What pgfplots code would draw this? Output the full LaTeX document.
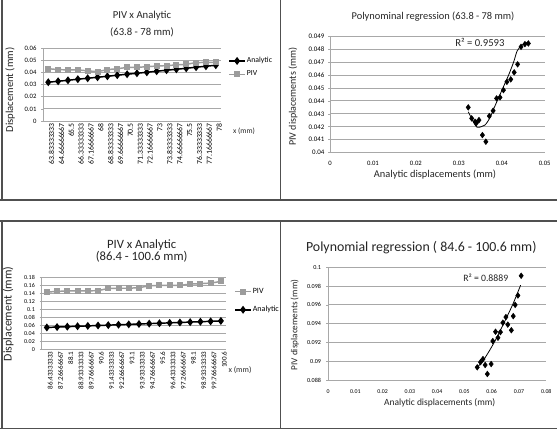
\documentclass[border=0pt]{standalone}
\usepackage{pgfplots}
\pgfplotsset{compat=1.18}
\usepackage{fontspec}
\setmainfont{Carlito}
\newcommand{\fs}[1]{\fontsize{#1}{#1}\selectfont}
\definecolor{gridgray}{HTML}{A8A8A8}
\definecolor{pivgray}{HTML}{9C9C9C}
\definecolor{framegray}{HTML}{505050}

\pgfplotsset{
  panel/.style={
    scale only axis,
    scaled x ticks=false, scaled y ticks=false,
    axis x line*=bottom, axis y line*=left,
    axis line style={-, gridgray, line width=0.6pt},
    ymajorgrids, grid style={gridgray, line width=0.6pt},
    tick style={gridgray, line width=0.5pt},
    major tick length=1.5pt, tick align=outside,
    clip=false,
  },
  linechart/.style={
    panel,
    xmin=-0.5, xmax=17.5, xtick={0,...,17},
    x tick style={draw=none},
    xticklabel style={rotate=90, anchor=east, inner sep=0pt, xshift=0pt, yshift=-2.5pt},
    yticklabel style={anchor=east, inner sep=0pt, xshift=-3.5pt},
    legend cell align=left,
    legend image code/.code={\draw[mark repeat=2,mark phase=2] plot coordinates {(0pt,0pt)(6pt,0pt)(12pt,0pt)};},
  },
  analytic/.style={black, line width=1.1pt, mark=diamond*, mark size=2.1pt, mark options={solid}},
  piv/.style={pivgray, line width=1.1pt, mark=square*, mark size=1.7pt, mark options={solid}},
  scatterpts/.style={only marks, black, mark=diamond*, mark size=2.1pt},
  trend/.style={black, line width=0.6pt, smooth, no marks},
}

\begin{document}
\begin{tikzpicture}
\useasboundingbox (0,0) rectangle (417.75pt,323.25pt);
\fill[white] (0,0) rectangle (417.75pt,323.25pt);

% ---------- upper left: line chart 63.8 - 78 mm ----------
\begin{axis}[linechart,
  at={(32.5pt,232.5pt)}, anchor=south west,
  width=133.05pt, height=54.5pt,
  ymin=0, ymax=0.06,
  ytick={0,0.01,0.02,0.03,0.04,0.05,0.06},
  yticklabels={0,0.01,0.02,0.03,0.04,0.05,0.06},
  yticklabel style={font=\fs{5}},
  xticklabel style={font=\fs{5.8}},
  xticklabels={63.83333333,64.66666667,65.5,66.33333333,67.16666667,68,68.83333333,69.66666667,70.5,71.33333333,72.16666667,73,73.83333333,74.66666667,75.5,76.33333333,77.16666667,78},
  legend style={draw=none, fill=none, at={(1.019,0.736)}, anchor=west,
    font=\fs{5.8}, row sep=3pt, nodes={inner sep=0.8pt}},
]
\addplot[analytic] coordinates {
 (0,0.0320) (1,0.0328) (2,0.0336) (3,0.0345) (4,0.0353) (5,0.0361)
 (6,0.0369) (7,0.0378) (8,0.0386) (9,0.0394) (10,0.0402) (11,0.0411)
 (12,0.0419) (13,0.0427) (14,0.0435) (15,0.0444) (16,0.0452) (17,0.0460)};
\addlegendentry{Analytic}
\addplot[piv] coordinates {
 (0,0.0432) (1,0.0424) (2,0.0422) (3,0.0422) (4,0.0414) (5,0.0407)
 (6,0.0424) (7,0.0432) (8,0.0442) (9,0.0443) (10,0.0448) (11,0.0454)
 (12,0.0457) (13,0.0463) (14,0.0468) (15,0.0482) (16,0.0484) (17,0.0485)};
\addlegendentry{PIV}
\end{axis}

% ---------- upper right: regression 63.8 - 78 mm ----------
\begin{axis}[panel,
  at={(247.5pt,208.7pt)}, anchor=south west,
  width=161pt, height=87.5pt,
  xmin=0, xmax=0.05, ymin=0.04, ymax=0.049,
  xtick={0,0.01,0.02,0.03,0.04,0.05},
  xticklabels={0,0.01,0.02,0.03,0.04,0.05},
  ytick={0.04,0.041,0.042,0.043,0.044,0.045,0.046,0.047,0.048,0.049},
  yticklabels={0.04,0.041,0.042,0.043,0.044,0.045,0.046,0.047,0.048,0.049},
  x tick style={draw=none},
  xticklabel style={font=\fs{5}, inner sep=0pt, yshift=-5pt},
  yticklabel style={font=\fs{5.2}, anchor=east, inner sep=0pt, xshift=-2.5pt},
]
\addplot[scatterpts] coordinates {
 (0.0322,0.04350) (0.0330,0.04265) (0.0338,0.04239) (0.0347,0.04252)
 (0.0341,0.04230) (0.0355,0.04136) (0.0363,0.04085) (0.0371,0.04283)
 (0.0380,0.04324) (0.0388,0.04419) (0.0396,0.04427) (0.0404,0.04483)
 (0.0412,0.04547) (0.0421,0.04566) (0.0429,0.04620) (0.0437,0.04682)
 (0.0445,0.04817) (0.0454,0.04838) (0.0462,0.04843)};
\addplot[trend] coordinates {
 (0.0322,0.04316) (0.0338,0.04214) (0.0345,0.04196) (0.0361,0.04214)
 (0.0373,0.04273) (0.0380,0.04329) (0.0392,0.04419) (0.0404,0.04509)
 (0.0416,0.04599) (0.0428,0.04702) (0.0436,0.04786) (0.0447,0.04830)
 (0.0458,0.04851)};
\end{axis}

% ---------- lower left: line chart 86.4 - 100.6 mm ----------
\begin{axis}[linechart,
  at={(31.3pt,61.3pt)}, anchor=south west,
  width=138.2pt, height=54pt,
  ymin=0, ymax=0.18,
  ytick={0,0.02,0.04,0.06,0.08,0.1,0.12,0.14,0.16,0.18},
  yticklabels={0,0.02,0.04,0.06,0.08,0.1,0.12,0.14,0.16,0.18},
  yticklabel style={font=\fs{4.5}},
  xticklabel style={font=\fs{5.3}},
  xticklabels={86.43333333,87.26666667,88.1,88.93333333,89.76666667,90.6,91.43333333,92.26666667,93.1,93.93333333,94.76666667,95.6,96.43333333,97.26666667,98.1,98.93333333,99.76666667,100.6},
  legend style={draw=none, fill=none, at={(1.022,0.673)}, anchor=west,
    font=\fs{6}, row sep=6.5pt, nodes={inner sep=0.8pt}},
]
\addplot[piv] coordinates {
 (0,0.1430) (1,0.1445) (2,0.1460) (3,0.1460) (4,0.1460) (5,0.1465)
 (6,0.1520) (7,0.1525) (8,0.1525) (9,0.1540) (10,0.1585) (11,0.1595)
 (12,0.1595) (13,0.1595) (14,0.1630) (15,0.1640) (16,0.1655) (17,0.1695)};
\addlegendentry{PIV}
\addplot[analytic] coordinates {
 (0,0.0545) (1,0.0555) (2,0.0565) (3,0.0575) (4,0.0584) (5,0.0594)
 (6,0.0603) (7,0.0613) (8,0.0622) (9,0.0632) (10,0.0641) (11,0.0651)
 (12,0.0660) (13,0.0670) (14,0.0679) (15,0.0689) (16,0.0698) (17,0.0708)};
\addlegendentry{Analytic}
\end{axis}

% ---------- lower right: regression 84.6 - 100.6 mm ----------
\begin{axis}[panel,
  at={(246pt,38.25pt)}, anchor=south west,
  width=163.7pt, height=84.5pt,
  xmin=0, xmax=0.08, ymin=0.088, ymax=0.1,
  xtick={0,0.01,0.02,0.03,0.04,0.05,0.06,0.07,0.08},
  xticklabels={0,0.01,0.02,0.03,0.04,0.05,0.06,0.07,0.08},
  ytick={0.088,0.09,0.092,0.094,0.096,0.098,0.1},
  yticklabels={0.088,0.09,0.092,0.094,0.096,0.098,0.1},
  x tick style={draw=none},
  xticklabel style={font=\fs{4.4}, inner sep=0pt, yshift=-5.5pt},
  yticklabel style={font=\fs{4.6}, anchor=east, inner sep=0pt, xshift=-3.5pt},
]
\addplot[scatterpts] coordinates {
 (0.0547,0.08935) (0.0559,0.08990) (0.0568,0.09023) (0.0576,0.08960)
 (0.0584,0.08864) (0.0598,0.08970) (0.0604,0.09215) (0.0614,0.09314)
 (0.0623,0.09250) (0.0632,0.09310) (0.0641,0.09410) (0.0652,0.09470)
 (0.0659,0.09390) (0.0672,0.09330) (0.0679,0.09480) (0.0686,0.09600)
 (0.0696,0.09700) (0.0708,0.09910)};
\addplot[trend] coordinates {
 (0.0543,0.0892) (0.0574,0.0903) (0.0611,0.0921) (0.0647,0.0942)
 (0.0678,0.0961) (0.0706,0.0981)};
\end{axis}

% ---------- titles, labels and panel frames ----------
\begin{scope}[shift={(0pt,323.25pt)}, x=0.75pt, y=-0.75pt]
  \draw[framegray, line width=1.1pt] (0,200) -- (557,200);
  \draw[framegray, line width=1.1pt] (0,221) -- (557,221);
  \draw[framegray, line width=1.1pt] (0,428.3) -- (557,428.3);
  \draw[framegray, line width=1.1pt] (1.8,0) -- (1.8,200);
  \draw[framegray, line width=1.1pt] (1.8,221) -- (1.8,428.3);
  \draw[framegray, line width=1.1pt] (280.7,0) -- (280.7,200);
  \draw[framegray, line width=1.1pt] (280.7,221) -- (280.7,428.3);

  \node[font=\fs{8}, text=black!85] at (142,16) {PIV x Analytic};
  \node[font=\fs{8}, text=black!85] at (142,32) {(63.8 - 78 mm)};
  \node[font=\fs{8}, rotate=90, text=black!85] at (10,90) {Displacement (mm)};
  \node[font=\fs{5.7}, text=black!85] at (244,131.7) {x (mm)};

  \node[font=\fs{7.8}, text=black!85] at (433,16.7) {Polynominal regression (63.8 - 78 mm)};
  \node[font=\fs{7.5}, rotate=90, text=black!85] at (293,96.7) {PIV displacements (mm)};
  \node[font=\fs{7.8}, text=black!85] at (435,175) {Analytic displacements (mm)};
  \node[font=\fs{8}, anchor=west, inner sep=0pt, text=black!85] at (455,42.7) {R² = 0.9593};

  \node[font=\fs{9.5}, text=black!85] at (141.7,245.2) {PIV x Analytic};
  \node[font=\fs{9.5}, text=black!85] at (141.7,256.7) {(86.4 - 100.6 mm)};
  \node[font=\fs{8.9}, rotate=90, text=black!85] at (8.3,314) {Displacement (mm)};
  \node[font=\fs{6}, text=black!85] at (240,370) {x (mm)};

  \node[font=\fs{10.4}, text=black!85] at (421.3,247.3) {Polynomial regression ( 84.6 - 100.6 mm)};
  \node[font=\fs{6.9}, rotate=90, text=black!85] at (294.7,325) {PIV displacements (mm)};
  \node[font=\fs{7.1}, text=black!85] at (439.7,403.3) {Analytic displacements (mm)};
  \node[font=\fs{7.3}, anchor=west, inner sep=0pt, text=black!85] at (463,277.3) {R² = 0.8889};
\end{scope}
\end{tikzpicture}
\end{document}
